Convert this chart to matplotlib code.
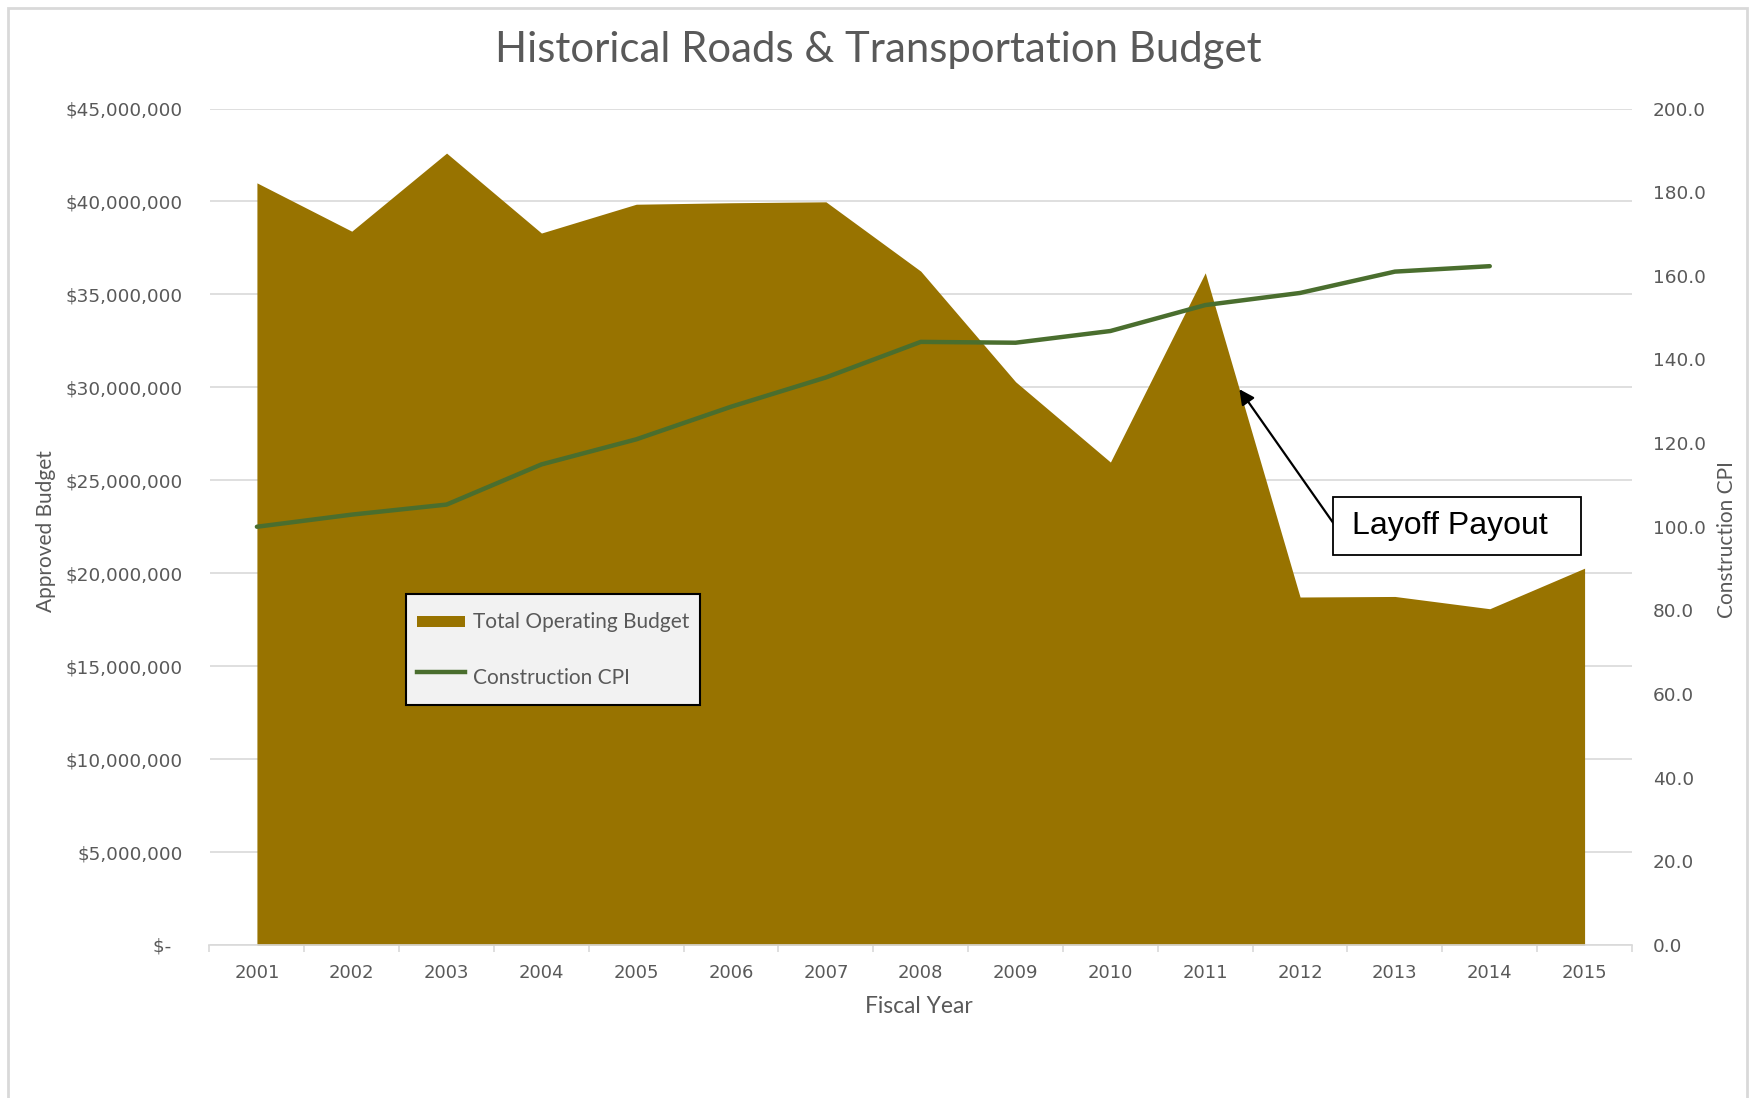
import matplotlib
matplotlib.use("Agg")
import matplotlib.pyplot as plt
from matplotlib.patches import Rectangle, Patch
from matplotlib.lines import Line2D
from matplotlib.legend_handler import HandlerPatch
from matplotlib.ticker import FixedLocator, FuncFormatter

years = [2001, 2002, 2003, 2004, 2005, 2006, 2007, 2008, 2009, 2010, 2011, 2012, 2013, 2014, 2015]
budget = [41.0e6, 38.4e6, 42.6e6, 38.3e6, 39.85e6, 39.93e6, 39.98e6, 36.25e6, 30.3e6,
          25.98e6, 36.16e6, 18.72e6, 18.75e6, 18.09e6, 20.27e6]
cpi_years = [2001, 2002, 2003, 2004, 2005, 2006, 2007, 2008, 2009, 2010, 2011, 2012, 2013, 2014]
cpi = [100.0, 102.9, 105.3, 114.9, 120.9, 128.7, 135.7, 144.2, 144.0, 146.8, 153.0, 155.9, 161.0, 162.3]
left_ticks = [0, 5e6, 10e6, 15e6, 20e6, 25e6, 30e6, 35e6, 40e6, 45e6]
right_ticks = [0, 20, 40, 60, 80, 100, 120, 140, 160, 180, 200]

W, H = 1754, 1098
fig = plt.figure(figsize=(W / 100, H / 100), dpi=100)
fig.patch.set_facecolor("white")

GOLD = "#987300"
GREEN = "#4A6E2E"
GRAY = "#595959"
GRID = "#D9D9D9"

# outer chart border
fig.add_artist(Rectangle((8 / W, -0.05), (1747 - 8) / W, 1.05 - 8 / H, transform=fig.transFigure,
                         fill=False, ec="#D9D9D9", lw=2.0))

left, right, top, bottom = 209.5, 1632, 108.5, 945
ax = fig.add_axes([left / W, 1 - bottom / H, (right - left) / W, (bottom - top) / H])
ax2 = ax.twinx()

ax.fill_between(years, budget, 0, color=GOLD, lw=0, zorder=2)
ax.set_xlim(2000.5, 2015.5)
ax.set_ylim(0, 45e6)
ax.set_yticks(left_ticks)
ax.yaxis.set_major_formatter(FuncFormatter(lambda v, p: "$-  " if v == 0 else "${:,.0f}".format(v)))
ax.grid(axis="y", color=GRID, lw=1.2, zorder=0)
ax.set_axisbelow(True)
ax.set_xticks(years)
ax.set_xticklabels([str(y) for y in years])
ax.xaxis.set_minor_locator(FixedLocator([y + 0.5 for y in [2000] + years]))
ax.tick_params(axis="x", which="major", length=0, pad=13.5, labelsize=13, labelcolor=GRAY)
ax.tick_params(axis="x", which="minor", length=5, color=GRID, width=1.2)
ax.tick_params(axis="y", length=0, pad=19.4, labelsize=13.3, labelcolor=GRAY)
for s in ["top", "left", "right"]:
    ax.spines[s].set_visible(False)
ax.spines["bottom"].set_color(GRID)
ax.spines["bottom"].set_linewidth(1.2)

ax2.plot(cpi_years, cpi, color=GREEN, lw=3.2, solid_capstyle="round", zorder=3)
ax2.set_ylim(0, 200)
ax2.set_yticks(right_ticks)
ax2.yaxis.set_major_formatter(FuncFormatter(lambda v, p: "{:.1f}".format(v)))
ax2.tick_params(axis="y", length=0, pad=15, labelsize=13.3, labelcolor=GRAY)
for s in ["top", "left", "right", "bottom"]:
    ax2.spines[s].set_visible(False)

ax.set_xlabel("Fiscal Year", fontsize=16.4, color=GRAY, family="Lato")
ax.xaxis.set_label_coords(0.499, -0.061)
ax.set_ylabel("Approved Budget", fontsize=15, color=GRAY, family="Lato")
ax.yaxis.set_label_coords(-0.108, 0.495)
ax2.set_ylabel("Construction CPI", fontsize=15, color=GRAY, family="Lato", rotation=90)
ax2.yaxis.set_label_coords(1.060, 0.485)

fig.text(878 / W, 1 - 50 / H, "Historical Roads & Transportation Budget", ha="center", va="center",
         fontsize=30.2, color=GRAY, family="Lato")


def small_patch(legend, orig_handle, xdescent, ydescent, width, height, fontsize):
    h = 8.0
    return Rectangle((-xdescent, -ydescent + (height - h) / 2), width, h)


handles = [Patch(facecolor=GOLD, edgecolor="none"), Line2D([], [], color=GREEN, lw=3.2)]
leg = ax2.legend(handles, ["Total Operating Budget", "Construction CPI"], loc="upper left",
                 bbox_to_anchor=(406 / W, 1 - 594 / H), bbox_transform=fig.transFigure,
                 borderaxespad=0, fancybox=False, framealpha=1, facecolor="#F2F2F2",
                 edgecolor="black", prop={"family": "Lato", "size": 15}, handlelength=2.3,
                 handleheight=2.13, handletextpad=0.4, labelspacing=1.05, borderpad=0.52,
                 labelcolor=GRAY, handler_map={Patch: HandlerPatch(patch_func=small_patch)})
leg.get_frame().set_linewidth(1.5)

# annotation
bx0, by0, bx1, by1 = 1333, 497, 1581, 555
fig.add_artist(Rectangle((bx0 / W, 1 - by1 / H), (bx1 - bx0) / W, (by1 - by0) / H,
                         transform=fig.transFigure, fc="white", ec="black", lw=1.3, zorder=10))
fig.text(1352 / W, 1 - 526 / H, "Layoff Payout", ha="left", va="center", fontsize=23,
         family="Liberation Sans", color="black", zorder=11)
ax2.annotate("", xy=(2011.36, 29.9e6), xycoords=ax.transData,
             xytext=(1334 / W, 1 - 524 / H), textcoords="figure fraction",
             arrowprops=dict(arrowstyle="-|>,head_length=0.9,head_width=0.45", color="black", lw=1.6,
                             shrinkA=0, shrinkB=0))

fig.savefig("out.png", dpi=100, facecolor="white")
